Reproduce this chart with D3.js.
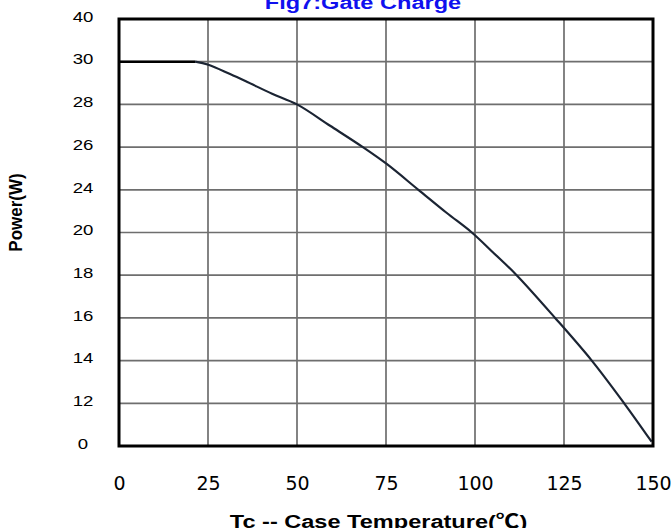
<!DOCTYPE html>
<html>
<head>
<meta charset="utf-8">
<script src="https://cdn.jsdelivr.net/npm/d3@7"></script>
<style>
  html, body { margin: 0; padding: 0; background: #fff; }
  svg { display: block; }
</style>
</head>
<body>
<svg id="chart" width="672" height="528"></svg>
<script>
// Power derating curve: case temperature (°C) vs. allowed power (W)
const tempC  = [0, 21.4, 25.1, 31.2, 35.9, 43, 50, 59.3, 68.5, 75.2, 84.1, 92, 99.1, 105.3, 111.7, 122.5, 132.8, 141.9, 149.6];
const powerW = [30, 30, 29.86, 29.42, 29.06, 28.5, 28, 27.0, 26, 25.21, 24, 21.85, 20, 19.03, 18, 16, 14, 12, 1.2];

// Axis tick values (the power axis uses unevenly spaced values on an even grid)
const xTicks = [0, 25, 50, 75, 100, 125, 150];
const yTicks = [0, 12, 14, 16, 18, 20, 24, 26, 28, 30, 40];

const title  = "Fig7:Gate Charge";
const xTitle = "Tc -- Case Temperature(\u2103)";
const yTitle = "Power(W)";

const svg = d3.select("#chart");
const plotL = 119, plotR = 653, plotT = 19, plotB = 446;

const x = d3.scaleLinear().domain([0, 150]).range([plotL, plotR]);
// piecewise scale: each listed tick value sits on an evenly spaced grid line
const y = d3.scaleLinear()
  .domain(yTicks)
  .range(yTicks.map((d, i) => plotB - i * (plotB - plotT) / (yTicks.length - 1)));

// grid
const grid = svg.append("g").attr("stroke", "#6e6e6e").attr("stroke-width", 1.7);
grid.selectAll("line.v").data(xTicks.slice(1, -1)).join("line")
  .attr("class", "v")
  .attr("x1", d => x(d)).attr("x2", d => x(d))
  .attr("y1", plotT).attr("y2", plotB);
grid.selectAll("line.h").data(yTicks.slice(1, -1)).join("line")
  .attr("class", "h")
  .attr("x1", plotL).attr("x2", plotR)
  .attr("y1", d => y(d)).attr("y2", d => y(d));

// derating curve: flat power limit, then the smooth decline
const pts = tempC.map((t, i) => [t, powerW[i]]);
const kneeIdx = 1;
const flatLine = d3.line().x(d => x(d[0])).y(d => y(d[1]));
const slopeLine = d3.line().x(d => x(d[0])).y(d => y(d[1]))
  .curve(d3.curveCatmullRom.alpha(0.5));

svg.append("path")
  .datum(pts.slice(0, kneeIdx + 1))
  .attr("d", flatLine)
  .attr("fill", "none")
  .attr("stroke", "#000")
  .attr("stroke-width", 2.6);

svg.append("path")
  .datum(pts.slice(kneeIdx))
  .attr("d", slopeLine)
  .attr("fill", "none")
  .attr("stroke", "#1b2433")
  .attr("stroke-width", 2.2)
  .attr("stroke-linejoin", "round");

// plot frame
svg.append("rect")
  .attr("x", plotL).attr("y", plotT)
  .attr("width", plotR - plotL).attr("height", plotB - plotT)
  .attr("fill", "none").attr("stroke", "#000").attr("stroke-width", 3);

// x axis labels
const xAxis = svg.append("g")
  .attr("transform", `translate(0,${plotB})`)
  .call(d3.axisBottom(x).tickValues(xTicks).tickSize(0).tickPadding(0));
xAxis.select(".domain").remove();
xAxis.selectAll("text")
  .attr("y", 37)
  .attr("dy", "0.35em")
  .attr("fill", "#000")
  .style("font-family", "'DejaVu Sans', Verdana, sans-serif")
  .style("font-size", "19px");

// y axis labels
const yAxis = svg.append("g")
  .attr("transform", `translate(${plotL},0)`)
  .call(d3.axisLeft(y).tickValues(yTicks).tickSize(0).tickPadding(0).tickFormat(d3.format("d")));
yAxis.select(".domain").remove();
yAxis.selectAll("text")
  .attr("x", 0)
  .attr("dy", "0.35em")
  .attr("text-anchor", "middle")
  .attr("fill", "#000")
  .attr("transform", "translate(-36,-3) scale(1.24,1)")
  .style("font-family", "'Liberation Sans', Arial, sans-serif")
  .style("font-size", "15px");

// titles
svg.append("text")
  .attr("transform", "translate(363,9) scale(1.24,1)")
  .attr("text-anchor", "middle")
  .attr("fill", "#1010ee")
  .style("font-family", "'Liberation Sans', Arial, sans-serif")
  .style("font-weight", "bold")
  .style("font-size", "19px")
  .text(title);

svg.append("text")
  .attr("transform", "translate(378.5,528) scale(1.24,1)")
  .attr("text-anchor", "middle")
  .attr("fill", "#000")
  .style("font-family", "'Liberation Sans', Arial, 'Noto Sans CJK SC', sans-serif")
  .style("font-weight", "bold")
  .style("font-size", "19px")
  .text(xTitle);

svg.append("text")
  .attr("transform", "translate(15,212.5) scale(1.12,1) rotate(-90)")
  .attr("text-anchor", "middle")
  .attr("dy", "0.35em")
  .attr("fill", "#000")
  .style("font-family", "'Liberation Sans', Arial, sans-serif")
  .style("font-weight", "bold")
  .style("font-size", "17px")
  .text(yTitle);
</script>
</body>
</html>
